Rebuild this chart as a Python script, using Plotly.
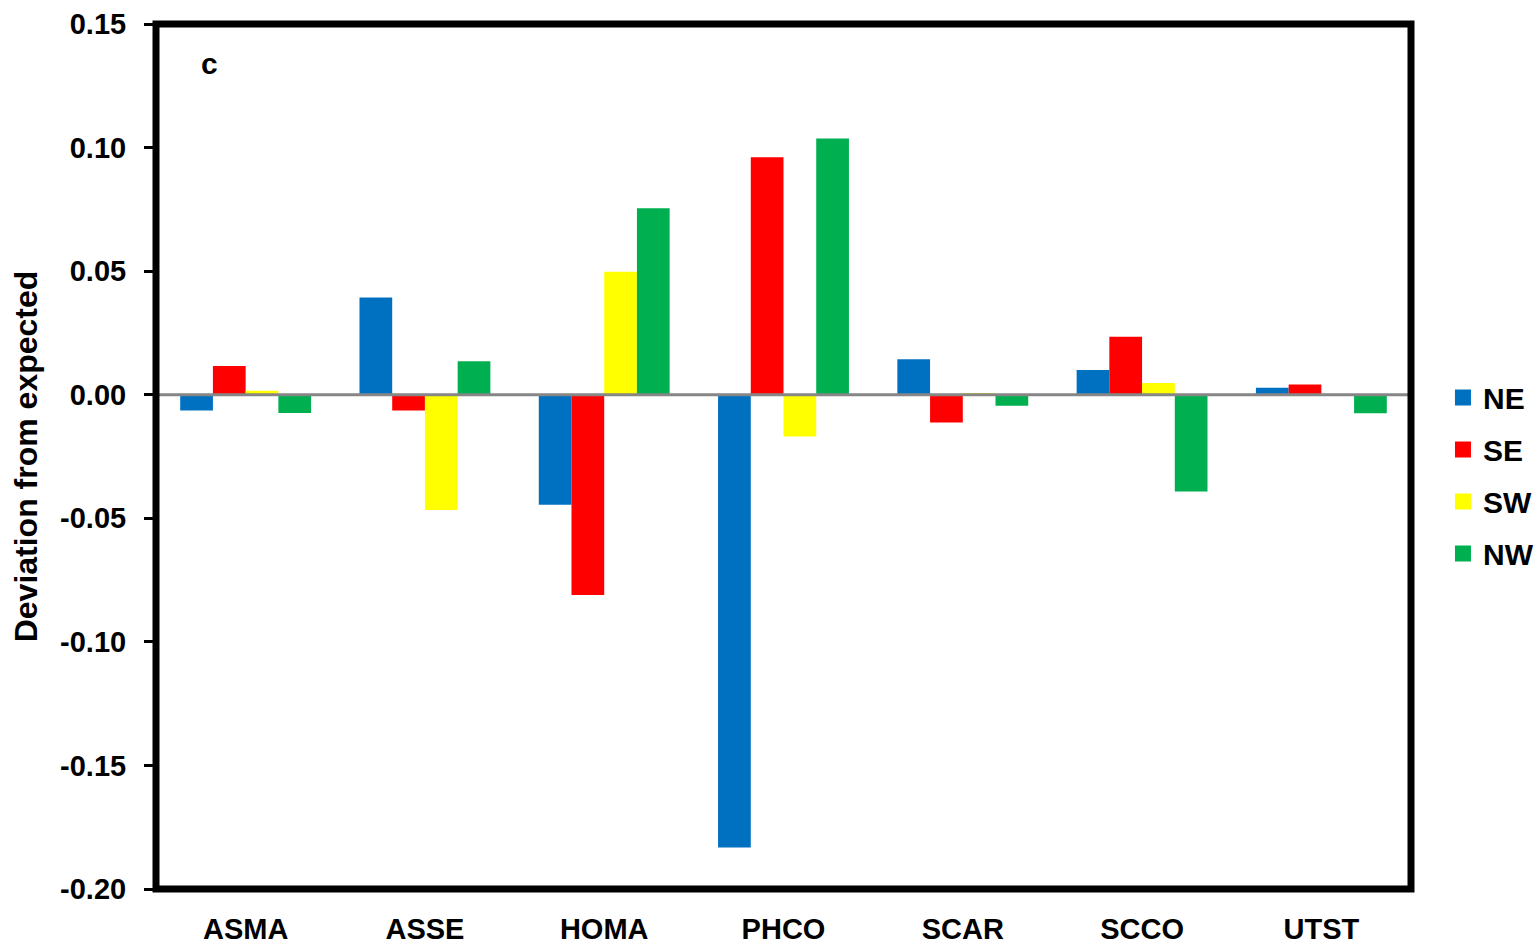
import plotly.graph_objects as go

# Species codes along the x axis
species = ["ASMA", "ASSE", "HOMA", "PHCO", "SCAR", "SCCO", "UTST"]

# Deviation from expected, per quadrant
ne = [-0.0064, 0.0393, -0.0445, -0.1832, 0.0144, 0.0100, 0.0028]
se = [0.0116, -0.0064, -0.0810, 0.0961, -0.0112, 0.0235, 0.0041]
sw = [0.0016, -0.0466, 0.0498, -0.0169, 0.0007, 0.0047, 0.0000]
nw = [-0.0074, 0.0135, 0.0754, 0.1037, -0.0045, -0.0392, -0.0075]

series_names = ["NE", "SE", "SW", "NW"]
series_values = [ne, se, sw, nw]
series_colors = ["#0070C0", "#FF0000", "#FFFF00", "#00B050"]

y_tick_vals = [0.15, 0.10, 0.05, 0.00, -0.05, -0.10, -0.15, -0.20]
y_tick_text = ["0.15", "0.10", "0.05", "0.00", "-0.05", "-0.10", "-0.15", "-0.20"]

FONT = "Liberation Sans, Arial, sans-serif"

fig = go.Figure()

for name, vals, color in zip(series_names, series_values, series_colors):
    fig.add_trace(go.Bar(
        x=species, y=vals, name=name,
        marker=dict(color=color, line=dict(width=0)),
        showlegend=False,
    ))

# Legend entries drawn as square markers
for name, color in zip(series_names, series_colors):
    fig.add_trace(go.Scatter(
        x=[None], y=[None], mode="markers", name=name,
        legendgroup=name,
        marker=dict(symbol="square", size=16, color=color),
    ))

fig.update_layout(
    width=1539, height=946,
    margin=dict(l=156, r=128, t=24, b=57, autoexpand=False),
    paper_bgcolor="white", plot_bgcolor="white",
    barmode="group", bargap=0.27, bargroupgap=0,
    font=dict(family=FONT, color="black", size=29, weight="bold"),
    legend=dict(
        xref="container", yref="container",
        x=0.9376, xanchor="left", y=0.4973, yanchor="middle",
        font=dict(family=FONT, size=30, weight="bold"),
        traceorder="grouped", tracegroupgap=10,
        bgcolor="rgba(0,0,0,0)",
    ),
    xaxis=dict(
        automargin=False,
        showgrid=False, zeroline=False, showline=False, ticks="",
        tickfont=dict(family=FONT, size=29, weight="bold"),
        ticklabelstandoff=20,
    ),
    yaxis=dict(
        automargin=False,
        range=[-0.20, 0.15], showgrid=False, zeroline=False, showline=False,
        tickvals=y_tick_vals, ticktext=y_tick_text,
        ticks="outside", ticklen=11, tickwidth=3, tickcolor="black",
        tickfont=dict(family=FONT, size=29, weight="bold"),
        ticklabelstandoff=12,
        title=dict(text="Deviation from expected", standoff=12,
                   font=dict(family=FONT, size=32, weight="bold")),
    ),
    shapes=[
        dict(type="line", xref="paper", x0=0, x1=1, yref="y", y0=0, y1=0,
             line=dict(color="#868686", width=3), layer="above"),
        dict(type="rect", xref="paper", x0=0, x1=1, yref="paper", y0=0, y1=1,
             line=dict(color="black", width=7), layer="above"),
    ],
    annotations=[
        dict(text="c", xref="paper", yref="paper", x=0.043, y=0.954,
             xanchor="center", yanchor="middle",
             showarrow=False, font=dict(family=FONT, size=30, weight="bold")),
    ],
)

fig.write_html("out.html")
